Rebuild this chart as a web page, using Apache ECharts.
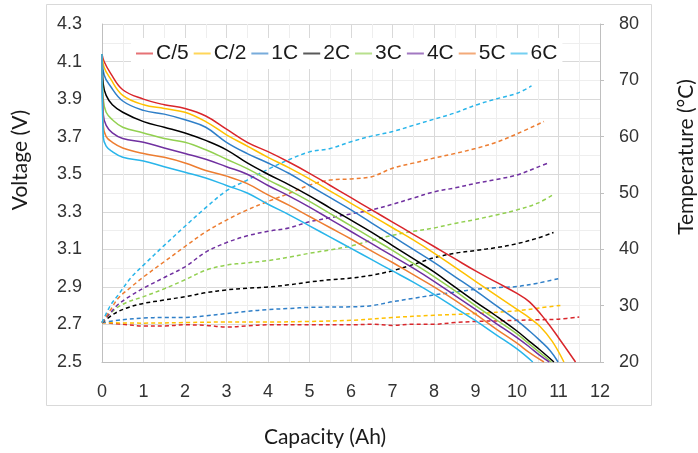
<!DOCTYPE html>
<html>
<head>
<meta charset="utf-8">
<script src="https://cdn.jsdelivr.net/npm/echarts@6/dist/echarts.min.js"></script>
<style>html,body{margin:0;padding:0;background:#fff;}#c{width:698px;height:453px;}</style>
</head>
<body>
<div id="c"></div>
<script>
// ---- data ----
const rateNames = ['C/5','C/2','1C','2C','3C','4C','5C','6C'];

// Voltage (V) vs capacity (Ah)
const vC5 = [[0,4.14],[0.05,4.10],[0.2,4.04],[0.5,3.95],[1,3.90],[1.5,3.87],[2,3.85],[2.5,3.81],[3,3.74],[3.5,3.67],[4,3.62],[4.5,3.565],[5,3.505],[5.5,3.44],[6,3.375],[6.5,3.31],[7,3.245],[7.5,3.18],[8,3.115],[8.5,3.05],[9,2.985],[9.5,2.925],[10,2.865],[10.3,2.82],[10.7,2.72],[11.03,2.62],[11.41,2.50]];
const vC2 = [[0,4.14],[0.05,4.07],[0.2,4.01],[0.5,3.92],[1,3.87],[1.5,3.85],[2,3.83],[2.5,3.78],[3,3.71],[3.5,3.65],[4,3.59],[4.5,3.535],[5,3.475],[5.5,3.41],[6,3.345],[6.5,3.28],[7,3.215],[7.5,3.15],[8,3.08],[8.5,3.005],[9,2.93],[9.5,2.855],[10,2.78],[10.3,2.735],[10.55,2.69],[10.85,2.61],[11.13,2.50]];
const v1C = [[0,4.14],[0.05,4.03],[0.2,3.97],[0.5,3.89],[1,3.84],[1.5,3.82],[2,3.79],[2.5,3.75],[3,3.67],[3.5,3.61],[4,3.56],[4.5,3.505],[5,3.44],[5.5,3.375],[6,3.31],[6.5,3.24],[7,3.17],[7.5,3.10],[8,3.03],[8.5,2.955],[9,2.88],[9.5,2.80],[10,2.72],[10.3,2.665],[10.55,2.615],[10.8,2.56],[10.99,2.50]];
const v2C = [[0,4.14],[0.03,3.98],[0.1,3.92],[0.25,3.87],[0.5,3.83],[1,3.78],[1.5,3.75],[2,3.72],[2.5,3.68],[3,3.63],[3.5,3.56],[4,3.50],[4.5,3.445],[5,3.385],[5.5,3.32],[6,3.255],[6.5,3.19],[7,3.12],[7.5,3.05],[8,2.98],[8.5,2.90],[9,2.82],[9.5,2.745],[10,2.665],[10.3,2.61],[10.55,2.565],[10.89,2.50]];
const v3C = [[0,4.14],[0.03,3.90],[0.1,3.83],[0.25,3.79],[0.5,3.75],[1,3.72],[1.5,3.69],[2,3.67],[2.5,3.63],[3,3.58],[3.5,3.53],[4,3.47],[4.5,3.415],[5,3.355],[5.5,3.29],[6,3.225],[6.5,3.16],[7,3.095],[7.5,3.025],[8,2.955],[8.5,2.88],[9,2.80],[9.5,2.725],[10,2.65],[10.3,2.595],[10.55,2.55],[10.83,2.50]];
const v4C = [[0,4.14],[0.03,3.82],[0.1,3.76],[0.25,3.72],[0.5,3.69],[1,3.67],[1.5,3.64],[2,3.61],[2.5,3.58],[3,3.54],[3.5,3.50],[4,3.44],[4.5,3.385],[5,3.325],[5.5,3.26],[6,3.195],[6.5,3.13],[7,3.065],[7.5,3.00],[8,2.93],[8.5,2.855],[9,2.78],[9.5,2.705],[10,2.63],[10.3,2.58],[10.55,2.535],[10.78,2.50]];
const v5C = [[0,4.14],[0.03,3.76],[0.1,3.70],[0.25,3.67],[0.5,3.64],[1,3.61],[1.5,3.59],[2,3.56],[2.5,3.52],[3,3.49],[3.5,3.45],[4,3.39],[4.5,3.335],[5,3.275],[5.5,3.215],[6,3.155],[6.5,3.09],[7,3.03],[7.5,2.965],[8,2.90],[8.5,2.83],[9,2.755],[9.5,2.675],[10,2.60],[10.3,2.55],[10.65,2.50]];
const v6C = [[0,4.14],[0.03,3.70],[0.1,3.65],[0.25,3.62],[0.5,3.59],[1,3.57],[1.5,3.54],[2,3.51],[2.5,3.48],[3,3.44],[3.5,3.40],[4,3.34],[4.5,3.285],[5,3.225],[5.5,3.165],[6,3.105],[6.5,3.045],[7,2.985],[7.5,2.925],[8,2.86],[8.5,2.79],[9,2.72],[9.5,2.645],[10,2.57],[10.38,2.50]];

// Temperature (°C) vs capacity (Ah)
const tC5 = [[0,27.0],[0.5,26.7],[1,26.4],[1.5,26.4],[2,26.6],[2.5,26.5],[3,26.2],[3.5,26.4],[4,26.6],[5,26.6],[6,26.6],[6.5,26.7],[7,26.5],[7.5,26.7],[8,26.7],[8.5,27.0],[9,27.2],[9.5,27.3],[10,27.4],[10.5,27.5],[11,27.6],[11.5,28.0]];
const tC2 = [[0,27.0],[1,26.9],[2,27.0],[3,27.1],[4,27.1],[5,27.2],[6,27.4],[7,27.9],[8,28.3],[9,28.6],[10,29.1],[10.55,29.6],[11.1,30.1]];
const t1C = [[0,27.0],[0.5,27.5],[1,27.8],[1.5,27.9],[2,27.9],[2.5,28.2],[3,28.6],[3.5,29.0],[4,29.3],[4.5,29.5],[5,29.7],[6,29.8],[6.5,30.0],[7,30.7],[7.5,31.3],[8,31.9],[8.5,32.4],[9,32.9],[9.5,33.2],[10,33.4],[10.5,34.0],[11,34.8]];
const t2C = [[0,27.0],[0.3,28.6],[0.6,29.6],[1,30.4],[1.5,31.0],[2,31.6],[2.5,32.3],[3,32.8],[3.5,33.1],[4,33.3],[4.5,33.7],[5,34.2],[5.5,34.6],[6,34.9],[6.5,35.4],[7,36.2],[7.5,37.3],[8,38.5],[8.5,39.3],[9,39.8],[9.5,40.3],[10,41.0],[10.5,42.0],[10.88,43.0]];
const t3C = [[0,27.0],[0.3,29.3],[0.6,30.6],[1,31.6],[1.5,33.0],[2,34.6],[2.5,36.3],[3,37.2],[3.5,37.6],[4,38.0],[4.5,38.6],[5,39.3],[5.5,39.9],[6,40.6],[6.5,41.6],[7,42.5],[7.5,43.2],[8,43.8],[8.5,44.6],[9,45.3],[9.5,46.1],[10,47.0],[10.5,48.2],[10.85,49.6]];
const t4C = [[0,27.0],[0.2,28.7],[0.4,30.3],[0.7,31.8],[1,33.1],[1.5,35.0],[2,36.9],[2.5,39.5],[3,41.2],[3.5,42.4],[4,43.2],[4.5,43.8],[5,44.9],[5.5,45.6],[6,46.3],[6.5,47.0],[7,48.0],[7.5,49.1],[8,50.2],[8.5,50.9],[9,51.7],[9.5,52.4],[10,53.2],[10.5,54.6],[10.78,55.4]];
const t5C = [[0,27.0],[0.2,29.2],[0.4,31.4],[0.7,33.3],[1,35.1],[1.5,37.8],[2,40.5],[2.5,43.1],[3,45.2],[3.5,47.0],[4,48.5],[4.5,49.9],[5,51.4],[5.5,52.3],[6,52.5],[6.5,52.9],[7,54.4],[7.5,55.3],[8,56.2],[8.5,57.0],[9,57.9],[9.5,59.0],[10,60.5],[10.65,62.7]];
const t6C = [[0,27.0],[0.2,30.0],[0.4,32.0],[0.7,35.0],[1,37.2],[1.5,40.7],[2,44.1],[2.5,47.4],[3,50.4],[3.5,52.3],[4,54.2],[4.5,55.9],[5,57.3],[5.5,57.9],[6,59.1],[6.5,60.1],[7,60.9],[7.5,62.0],[8,63.1],[8.5,64.2],[9,65.6],[9.5,66.7],[10,67.7],[10.35,69.0]];

const voltageData = [vC5, vC2, v1C, v2C, v3C, v4C, v5C, v6C];
const tempData = [tC5, tC2, t1C, t2C, t3C, t4C, t5C, t6C];

// ---- style ----
const colors = ['#d9262b','#ffc000','#2f7fc8','#000000','#92d050','#7030a0','#ed7d31','#29b5ea'];
const tickFont = {fontFamily:'Liberation Sans, Arial, sans-serif', fontSize:18, color:'#333'};
const titleFont = 'Lato, sans-serif';

const series = [];
voltageData.forEach((d, i) => {
  series.push({
    name: rateNames[i], type:'line', yAxisIndex:0, data:d, symbol:'none', showSymbol:false,
    smooth:0.4,
    lineStyle:{color:colors[i], width:1.5}, itemStyle:{color:colors[i]}, z:3
  });
});
tempData.forEach((d, i) => {
  series.push({
    name: rateNames[i] + ' T', type:'line', yAxisIndex:1, data:d, symbol:'none', showSymbol:false,
    smooth:0.35,
    lineStyle:{color:colors[i], width:1.5, type:[4,3]}, itemStyle:{color:colors[i]}, z:2
  });
});

const chart = echarts.init(document.getElementById('c'), null, {renderer:'canvas'});
chart.setOption({
  animation:false,
  backgroundColor:'#fff',
  grid:{left:102, top:24, width:498, height:338, containLabel:false},
  legend:{
    data: rateNames.map((n, i) => ({name:n, icon:'rect', itemStyle:{color:colors[i], opacity:0.65}})),
    left:131, top:38, padding:[5,5], itemGap:5,
    itemWidth:17, itemHeight:2, backgroundColor:'#fff',
    textStyle:{fontFamily:'Liberation Sans, Arial, sans-serif', fontSize:21, color:'#1a1a1a', padding:[0,0,0,-2]}
  },
  xAxis:{
    type:'value', min:0, max:12, interval:0.5,
    axisLine:{show:true, lineStyle:{color:'#bfbfbf', width:1}},
    axisTick:{show:false},
    axisLabel:Object.assign({margin:21, formatter:v => (Math.abs(v - Math.round(v)) < 1e-6 ? String(Math.round(v)) : '')}, tickFont),
    splitLine:{show:true, lineStyle:{color:['#d9d9d9','#eeeeee'], width:1}}
  },
  yAxis:[{
    type:'value', min:2.5, max:4.3, interval:0.1, position:'left',
    axisLine:{show:true, lineStyle:{color:'#bfbfbf', width:1}},
    axisTick:{show:false},
    axisLabel:Object.assign({margin:20, formatter:v => (Math.round(v*10) % 2 === 1 ? v.toFixed(1) : '')}, tickFont),
    splitLine:{show:true, lineStyle:{color:['#d9d9d9','#eeeeee'], width:1}}
  },{
    type:'value', min:20, max:80, interval:10, position:'right',
    axisLine:{show:true, lineStyle:{color:'#bfbfbf', width:1}},
    axisTick:{show:true, length:4, lineStyle:{color:'#bfbfbf'}},
    axisLabel:Object.assign({margin:19}, tickFont),
    splitLine:{show:false}
  }],
  graphic:[
    {type:'rect', z:-10, silent:true, shape:{x:46.5, y:4.5, width:605, height:401}, style:{fill:'none', stroke:'#d9d9d9', lineWidth:1}},
    {type:'text', x:20, y:160, rotation:Math.PI/2, style:{text:'Voltage (V)', font:'21px ' + titleFont, fill:'#1a1a1a', textAlign:'center', textVerticalAlign:'middle'}},
    {type:'text', x:686, y:157, rotation:Math.PI/2, style:{text:'Temperature (°C)', font:'21px ' + titleFont, fill:'#1a1a1a', textAlign:'center', textVerticalAlign:'middle'}},
    {type:'text', x:325, y:437, style:{text:'Capacity (Ah)', font:'21px ' + titleFont, fill:'#1a1a1a', textAlign:'center', textVerticalAlign:'middle'}}
  ],
  series: series
});
</script>
</body>
</html>
